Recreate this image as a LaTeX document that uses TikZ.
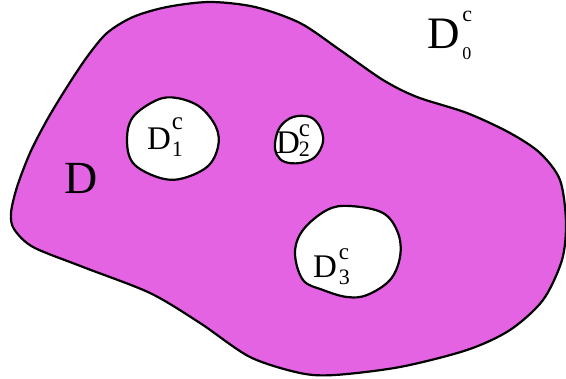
\documentclass[tikz,border=0pt]{standalone}
\usepackage{fontspec}
\setmainfont{Liberation Serif}
\definecolor{blobfill}{RGB}{227,99,227}
\newcommand{\Dlab}[7]{{\fontsize{#1}{#1}\selectfont D}\kern#7\rlap{\raisebox{#4}{\fontsize{#2}{#2}\selectfont c}}\raisebox{-#5}{\fontsize{#3}{#3}\selectfont #6}}
\begin{document}
\begin{tikzpicture}[x=1pt,y=-1pt,
  outline/.style={draw=black,line width=2.2pt,line join=round},
  hole/.style={outline,fill=white},
  lab/.style={anchor=base west,inner sep=0pt,outer sep=0pt}]
\useasboundingbox (0,0) rectangle (566,379);
\path[outline,fill=blobfill] plot[smooth cycle,tension=0.5] coordinates {
  (17,187) (11,213) (14,229) (33,247) (83,267) (150,293) (200,323) (250,357)
  (300,373) (335,375) (400,367) (467,350) (510,330) (543,300) (562,260)
  (566,222) (560,180) (540,153) (510,133) (467,113) (417,97) (383,80)
  (340,50) (300,23) (255,7) (210,2) (167,7) (133,17) (107,33) (87,57)
  (67,87) (47,120) (30,153)};
\path[hole] plot[smooth cycle,tension=0.6] coordinates {
  (127,140) (133,117) (157,100) (177,98) (200,107) (216,127) (218,147)
  (207,167) (180,179) (157,177) (133,163)};
\path[hole] plot[smooth cycle,tension=0.6] coordinates {
  (275,143) (280,127) (293,117) (310,117) (320,127) (323,142) (315,157)
  (300,163) (285,162) (277,155)};
\path[hole] plot[smooth cycle,tension=0.6] coordinates {
  (295,253) (303,230) (327,210) (350,206) (383,213) (398,233) (400,257)
  (390,280) (367,295) (347,297) (323,290) (303,280)};
\node[lab] (d) at (64,194) {\fontsize{46}{46}\selectfont D};
\node[lab] (d0) at (427,49) {\Dlab{45}{22}{18}{27pt}{11pt}{0}{3pt}};
\node[lab] (d1) at (147,150) {\Dlab{33}{25}{22}{20pt}{7pt}{1}{1pt}};
\node[lab] (d2) at (276,154) {\Dlab{33}{25}{22}{17pt}{3pt}{2}{-1pt}};
\node[lab] (d3) at (313,278) {\Dlab{33}{23}{22}{18pt}{7pt}{3}{2pt}};
\end{tikzpicture}
\end{document}
